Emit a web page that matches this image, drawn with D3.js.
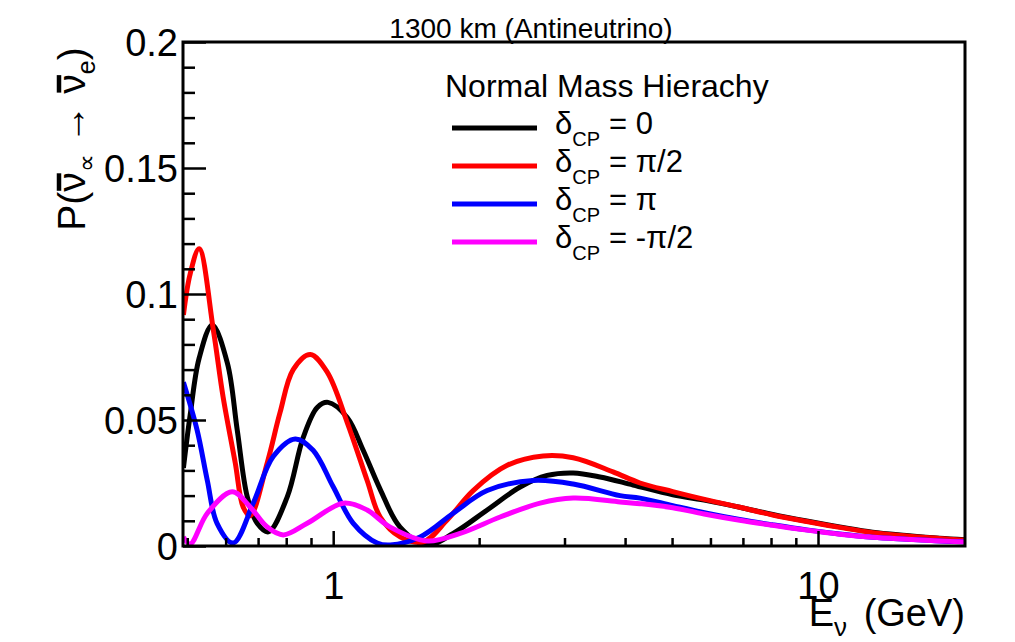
<!DOCTYPE html>
<html>
<head>
<meta charset="utf-8">
<script src="https://cdn.jsdelivr.net/npm/d3@7"></script>
<style>
  html, body { margin: 0; padding: 0; background: #fff; }
  svg { display: block; font-family: "Liberation Sans", Arial, Helvetica, sans-serif; }
</style>
</head>
<body>
<svg id="chart" width="1015" height="642"></svg>
<script>
// ---- data ----
const legendValues = ["= 0", "= \u03C0/2", "= \u03C0", "= -\u03C0/2"];
const seriesColors = ["#000000", "#ff0000", "#0000ff", "#ff00ff"];

// [E (GeV), probability]
const blackData = [
  [0.491, 0.031], [0.507, 0.052], [0.529, 0.0745], [0.563, 0.0877], [0.605, 0.0726],
  [0.634, 0.046], [0.665, 0.0195], [0.697, 0.009], [0.735, 0.0056], [0.804, 0.0195],
  [0.867, 0.043], [0.927, 0.055], [0.976, 0.057], [1.069, 0.051], [1.153, 0.038],
  [1.25, 0.0225], [1.374, 0.0075], [1.563, 0.0004], [1.768, 0.005], [2.078, 0.0143],
  [2.43, 0.0234], [2.763, 0.028], [3.126, 0.029], [3.552, 0.0274], [4.155, 0.0242],
  [5.017, 0.0203], [5.895, 0.018], [6.893, 0.0154], [8.065, 0.0125], [9.478, 0.0099],
  [11.08, 0.0076], [12.96, 0.0055], [15.23, 0.0042], [17.82, 0.0031], [20.1, 0.0025]
];
const redData = [
  [0.491, 0.0917], [0.507, 0.108], [0.529, 0.118], [0.566, 0.0857], [0.593, 0.059],
  [0.628, 0.033], [0.652, 0.0155], [0.674, 0.012], [0.731, 0.033], [0.777, 0.053],
  [0.827, 0.070], [0.897, 0.076], [0.972, 0.069], [1.069, 0.049], [1.175, 0.026],
  [1.25, 0.0115], [1.374, 0.0036], [1.533, 0.0016], [1.718, 0.0103], [1.944, 0.022],
  [2.285, 0.032], [2.71, 0.0357], [3.126, 0.035], [3.778, 0.0294], [4.295, 0.025],
  [5.017, 0.0216], [5.895, 0.0183], [6.893, 0.0154], [8.065, 0.0123], [9.478, 0.0097],
  [11.08, 0.0074], [12.96, 0.0053], [15.23, 0.004], [17.82, 0.003], [20.1, 0.0023]
];
const blueData = [
  [0.491, 0.065], [0.524, 0.046], [0.55, 0.026], [0.576, 0.009], [0.622, 0.0012],
  [0.684, 0.017], [0.752, 0.0355], [0.835, 0.0425], [0.909, 0.038], [1.0, 0.0235],
  [1.1, 0.009], [1.232, 0.0012], [1.311, 0.0004], [1.511, 0.0036], [1.768, 0.013],
  [2.078, 0.022], [2.585, 0.026], [3.126, 0.0246], [3.906, 0.020], [4.295, 0.019],
  [5.017, 0.016], [5.895, 0.013], [6.893, 0.0105], [8.065, 0.0084], [9.478, 0.0064],
  [11.08, 0.0048], [12.96, 0.0035], [15.23, 0.0027], [17.82, 0.002], [20.1, 0.0017]
];
const magentaData = [
  [0.491, 0.0036], [0.507, 0.0008], [0.55, 0.013], [0.619, 0.0215], [0.674, 0.0155],
  [0.731, 0.0075], [0.789, 0.0044], [0.884, 0.009], [1.049, 0.017], [1.175, 0.0143],
  [1.25, 0.0103], [1.311, 0.0075], [1.563, 0.002], [1.827, 0.005], [2.21, 0.0115],
  [2.672, 0.017], [3.126, 0.019], [3.906, 0.0175], [4.295, 0.0168], [5.017, 0.0152],
  [5.895, 0.0125], [6.893, 0.0102], [8.065, 0.0082], [9.478, 0.0063], [11.08, 0.0047],
  [12.96, 0.0035], [15.23, 0.0027], [17.82, 0.002], [20.1, 0.0016]
];

const yMajorTicks = [0, 0.05, 0.1, 0.15, 0.2];
const yTickLabels = ["0", "0.05", "0.1", "0.15", "0.2"];
const yMinorTicks = [0.01, 0.02, 0.03, 0.04, 0.06, 0.07, 0.08, 0.09, 0.11, 0.12, 0.13, 0.14, 0.16, 0.17, 0.18, 0.19];
const xMajorTicks = [1, 10];
const xTickLabels = ["1", "10"];
const xMinorTicks = [0.5, 0.6, 0.7, 0.8, 0.9, 2, 3, 4, 5, 6, 7, 8, 9];

// ---- layout ----
const svg = d3.select("#chart");
const L = 183, R = 965, T = 42, B = 546;
const x = d3.scaleLog().domain([0.49, 20.1]).range([L, R]);
const y = d3.scaleLinear().domain([0, 0.2]).range([B, T]);

svg.append("defs").append("clipPath").attr("id", "plotclip")
  .append("rect").attr("x", L).attr("y", T).attr("width", R - L).attr("height", B - T);

// curves
const line = d3.line().x(d => x(d[0])).y(d => y(d[1])).curve(d3.curveCatmullRom.alpha(0.5));
const allSeries = [blackData, redData, blueData, magentaData];
const gCurves = svg.append("g").attr("clip-path", "url(#plotclip)");
allSeries.forEach((s, i) => {
  gCurves.append("path").datum(s)
    .attr("d", line)
    .attr("fill", "none")
    .attr("stroke", seriesColors[i])
    .attr("stroke-width", 5)
    .attr("stroke-linejoin", "round");
});

// axes
const fontSize = 38;
const yAxis = d3.axisLeft(y).tickValues(yMajorTicks)
  .tickFormat((d, i) => yTickLabels[i]).tickSizeInner(-23).tickSizeOuter(0).tickPadding(5);
const gy = svg.append("g").attr("transform", `translate(${L},0)`).call(yAxis);
gy.select(".domain").remove();
gy.selectAll(".tick line").attr("stroke", "#000").attr("stroke-width", 2.5);
gy.selectAll(".tick text").attr("font-size", fontSize).attr("fill", "#000")
  .attr("font-family", "Liberation Sans, Arial, sans-serif").attr("dy", "0.36em");

const yAxisMinor = d3.axisLeft(y).tickValues(yMinorTicks).tickFormat("").tickSizeInner(-12).tickSizeOuter(0);
const gym = svg.append("g").attr("transform", `translate(${L},0)`).call(yAxisMinor);
gym.select(".domain").remove();
gym.selectAll(".tick line").attr("stroke", "#000").attr("stroke-width", 2.5);

const xAxis = d3.axisBottom(x).tickValues(xMajorTicks)
  .tickFormat((d, i) => xTickLabels[i]).tickSizeInner(-15).tickSizeOuter(0).tickPadding(26);
const gx = svg.append("g").attr("transform", `translate(0,${B})`).call(xAxis);
gx.select(".domain").remove();
gx.selectAll(".tick line").attr("stroke", "#000").attr("stroke-width", 2.5);
gx.selectAll(".tick text").attr("font-size", fontSize).attr("fill", "#000")
  .attr("font-family", "Liberation Sans, Arial, sans-serif");

const xAxisMinor = d3.axisBottom(x).tickValues(xMinorTicks).tickFormat("").tickSizeInner(-8).tickSizeOuter(0);
const gxm = svg.append("g").attr("transform", `translate(0,${B})`).call(xAxisMinor);
gxm.select(".domain").remove();
gxm.selectAll(".tick line").attr("stroke", "#000").attr("stroke-width", 2.5);

// frame
svg.append("rect").attr("x", L).attr("y", T).attr("width", R - L).attr("height", B - T)
  .attr("fill", "none").attr("stroke", "#000").attr("stroke-width", 3);

// title
svg.append("text").attr("x", 531).attr("y", 38).attr("text-anchor", "middle")
  .attr("font-size", 28).attr("fill", "#000").text("1300 km (Antineutrino)");

// x title
const xt = svg.append("text").attr("x", R).attr("y", 626).attr("text-anchor", "end")
  .attr("font-size", 38).attr("fill", "#000");
xt.append("tspan").text("E");
xt.append("tspan").attr("font-size", 26).attr("dy", 10).text("\u03BD");
xt.append("tspan").attr("dy", -10).attr("dx", 6).text(" (GeV)");

// y title (antineutrino bars drawn over the nu glyphs)
const ytG = svg.append("g").attr("transform", "translate(85,139) rotate(-90)");
const yt = ytG.append("text").attr("text-anchor", "middle").attr("font-size", 39).attr("fill", "#000");
yt.append("tspan").text("P(");
yt.append("tspan").text("\u03BD");
yt.append("tspan").attr("font-size", 25).attr("dy", 10).text("\u221D");
yt.append("tspan").attr("dy", -10).text(" \u2192 ");
yt.append("tspan").text("\u03BD");
yt.append("tspan").attr("font-size", 25).attr("dy", 10).text("e");
yt.append("tspan").attr("dy", -10).text(")");
[2, 7].forEach(ci => {
  const n = yt.node();
  const s = n.getStartPositionOfChar(ci), e = n.getEndPositionOfChar(ci);
  ytG.append("line").attr("x1", s.x + 1).attr("x2", e.x - 1)
    .attr("y1", -26).attr("y2", -26).attr("stroke", "#000").attr("stroke-width", 4.5);
});

// legend
svg.append("text").attr("x", 445).attr("y", 97).attr("font-size", 32).attr("fill", "#000")
  .text("Normal Mass Hierachy");
const legendY = [128, 166, 204, 242];
legendValues.forEach((v, i) => {
  svg.append("line").attr("x1", 452).attr("x2", 537).attr("y1", legendY[i]).attr("y2", legendY[i])
    .attr("stroke", seriesColors[i]).attr("stroke-width", 5);
  const t = svg.append("text").attr("x", 555).attr("y", legendY[i] + 6)
    .attr("font-size", 31).attr("fill", "#000");
  t.append("tspan").text("\u03B4");
  t.append("tspan").attr("font-size", 20).attr("dy", 12).text("CP");
  t.append("tspan").attr("dy", -12).attr("x", 609).text(v);
});
</script>
</body>
</html>
